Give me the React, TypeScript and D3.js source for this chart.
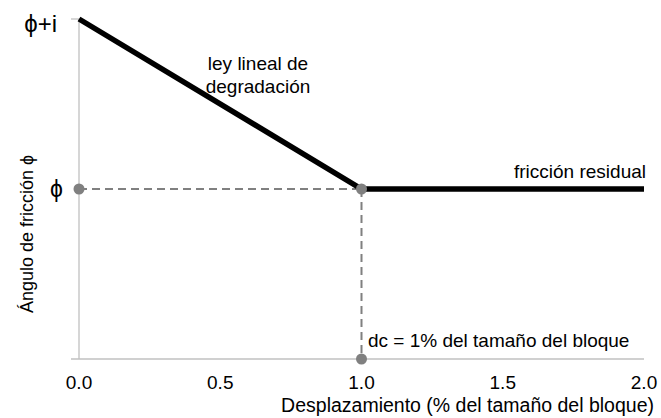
import React from "react";
import * as d3 from "d3";

const lawX = [0, 1, 2];
const lawY = [2, 1, 1];
const guideH = [[0, 1], [1, 1]];
const guideV = [[1, 1], [1, 0]];
const markerPts = [[0, 1], [1, 1], [1, 0]];
const xTicks = [0, 0.5, 1, 1.5, 2];
const yTickVals = [2, 1];
const yTickLabels = ["ϕ+i", "ϕ"];

const W = 661, H = 418;
const font = "Liberation Sans, Arial, sans-serif";

export default function App() {
  const x = d3.scaleLinear().domain([0, 2]).range([79, 644]);
  const y = d3.scaleLinear().domain([0, 2]).range([359, 19]);
  const line = d3.line<number[]>().x(d => x(d[0])).y(d => y(d[1]));
  const law = lawX.map((v, i) => [v, lawY[i]]);
  const gray = "#808080";
  const axis = "#c0c0c0";
  return (
    <svg width={W} height={H} style={{ position: "absolute", left: 0, top: 0, background: "#fff" }} fontFamily={font}>
      {/* axes */}
      <line x1={x(0)} x2={x(0)} y1={y(2)} y2={y(0)} stroke={axis} strokeWidth={1.3} />
      <line x1={x(0) - 8} x2={x(2)} y1={y(0)} y2={y(0)} stroke={axis} strokeWidth={1.3} />
      <line x1={x(0) - 8} x2={x(0)} y1={y(2)} y2={y(2)} stroke={axis} strokeWidth={1.3} />
      {xTicks.map(t => (
        <text key={t} x={x(t)} y={389} textAnchor="middle" fontSize={19} fill="#000">{d3.format(".1f")(t)}</text>
      ))}
      <text x={57} y={y(2) + 13} textAnchor="end" fontSize={24} fill="#000">{yTickLabels[0]}</text>
      <text x={63} y={y(1) + 8} textAnchor="end" fontSize={23} fill="#000">{yTickLabels[1]}</text>
      {/* guides */}
      <path d={line(guideH)!} stroke={gray} strokeWidth={2} strokeDasharray="8,5" fill="none" />
      <path d={line(guideV)!} stroke={gray} strokeWidth={2} strokeDasharray="8,5" fill="none" />
      {/* law */}
      <path d={line(law)!} stroke="#000" strokeWidth={5.5} fill="none" strokeLinejoin="miter" />
      {markerPts.map((p, i) => (
        <circle key={i} cx={x(p[0])} cy={y(p[1])} r={5.5} fill={gray} />
      ))}
      {/* annotations */}
      <text x={258} y={70} textAnchor="middle" fontSize={19}>ley lineal de</text>
      <text x={258} y={93} textAnchor="middle" fontSize={19}>degradación</text>
      <text x={646} y={178} textAnchor="end" fontSize={19}>fricción residual</text>
      <text x={368} y={347} fontSize={19}>dc = 1% del tamaño del bloque</text>
      <text x={654} y={412} textAnchor="end" fontSize={19.5}>Desplazamiento (% del tamaño del bloque)</text>
      <text transform={`translate(33,${234}) rotate(-90)`} textAnchor="middle" fontSize={18}>Ángulo de fricción ϕ</text>
    </svg>
  );
}
